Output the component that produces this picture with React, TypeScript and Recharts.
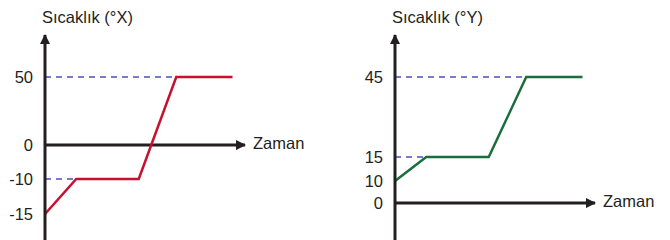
import React from "react";
import { LineChart, Line, XAxis, YAxis, ReferenceLine } from "recharts";

// time (schematic units)
const times = [0, 1, 3, 4.2, 6];
const tempX = [-15, -10, -10, 50, 50];
const tempY = [10, 15, 15, 45, 45];
const ticksX = [-15, -10, 0, 50];
const ticksY = [0, 10, 15, 45];

// the y axes are drawn out of scale, so each tick gets its own spot
// [value, share of axis height from the bottom]
const knotsX: [number, number][] = [
  [-15, 0.127],
  [-10, 0.298],
  [0, 0.463],
  [50, 0.795],
];
const knotsY: [number, number][] = [
  [0, 0.18],
  [10, 0.288],
  [15, 0.405],
  [45, 0.795],
];

const TEXT = "#231f20";
const AXIS = "#231f20";
const DASH = "#4f4fb4";
const FONT = "'Liberation Sans', Arial, sans-serif";
const PLOT_H = 205;

function pieceScale(knots: [number, number][]) {
  let dom: any[] = [0, 1];
  let rng: number[] = [0, 1];
  const frac = (v: number) => {
    let i = 0;
    while (i < knots.length - 2 && v > knots[i + 1][0]) i++;
    const [v0, f0] = knots[i];
    const [v1, f1] = knots[i + 1];
    return f0 + ((v - v0) / (v1 - v0)) * (f1 - f0);
  };
  const s: any = (v: number) => rng[0] + (rng[1] - rng[0]) * frac(Number(v));
  s.domain = (d?: any[]) => {
    if (d === undefined) return dom;
    dom = d;
    return s;
  };
  s.range = (r?: number[]) => {
    if (r === undefined) return rng;
    rng = r;
    return s;
  };
  s.copy = () => pieceScale(knots).domain(dom).range(rng);
  s.ticks = () => knots.map((k) => k[0]);
  return s;
}

function TempChart({
  values,
  ticks,
  knots,
  domain,
  color,
  title,
  id,
  left,
}: {
  values: number[];
  ticks: number[];
  knots: [number, number][];
  domain: [number, number];
  color: string;
  title: string;
  id: string;
  left: number;
}) {
  const data = times.map((t, i) => ({ t, v: values[i] }));
  const top = values[3];
  const low = values[1];
  const zero = knots.find((k) => k[0] === 0)![1];
  return (
    <div style={{ position: "absolute", left, top: 0, width: 335, height: 240 }}>
      <div
        style={{
          position: "absolute",
          left: 42,
          top: 8,
          fontFamily: FONT,
          fontSize: 16.5,
          color: TEXT,
          whiteSpace: "nowrap",
        }}
      >
        {title}
      </div>
      <div
        style={{
          position: "absolute",
          left: 253,
          top: 240 - zero * PLOT_H - 11,
          fontFamily: FONT,
          fontSize: 16.5,
          color: TEXT,
        }}
      >
        Zaman
      </div>
      <LineChart
        width={335}
        height={240}
        data={data}
        margin={{ top: 35, right: 90, bottom: 0, left: 0 }}
        style={{ position: "absolute", left: 0, top: 0 }}
      >
        <defs>
          <marker
            id={id + "-up"}
            viewBox="0 0 10 10"
            refX={9}
            refY={5}
            markerWidth={13}
            markerHeight={10}
            markerUnits="userSpaceOnUse"
            orient="auto-start-reverse"
          >
            <path d="M0,0 L10,5 L0,10 z" fill={AXIS} />
          </marker>
          <marker
            id={id + "-right"}
            viewBox="0 0 10 10"
            refX={9}
            refY={5}
            markerWidth={13}
            markerHeight={10}
            markerUnits="userSpaceOnUse"
            orient="auto"
          >
            <path d="M0,0 L10,5 L0,10 z" fill={AXIS} />
          </marker>
        </defs>
        <XAxis dataKey="t" type="number" domain={[0, 6.4]} hide />
        <YAxis
          type="number"
          width={45}
          domain={domain}
          allowDataOverflow
          scale={pieceScale(knots)}
          ticks={ticks}
          interval={0}
          tickLine={false}
          tickMargin={6}
          axisLine={{ stroke: AXIS, strokeWidth: 3, markerStart: `url(#${id}-up)` }}
          tick={{ fill: TEXT, fontSize: 16.5, fontFamily: FONT }}
        />
        <ReferenceLine
          segment={[
            { x: 0, y: top },
            { x: times[3], y: top },
          ]}
          stroke={DASH}
          strokeWidth={1.5}
          strokeDasharray="6 5"
        />
        <ReferenceLine
          segment={[
            { x: 0, y: low },
            { x: times[1], y: low },
          ]}
          stroke={DASH}
          strokeWidth={1.5}
          strokeDasharray="6 5"
        />
        <ReferenceLine
          y={0}
          stroke={AXIS}
          strokeWidth={3}
          markerEnd={`url(#${id}-right)`}
        />
        <Line
          dataKey="v"
          type="linear"
          stroke={color}
          strokeWidth={2.5}
          dot={false}
          isAnimationActive={false}
        />
      </LineChart>
    </div>
  );
}

export default function App() {
  return (
    <div
      style={{
        position: "absolute",
        left: 0,
        top: 0,
        width: 670,
        height: 240,
        background: "#fff",
      }}
    >
      <TempChart
        values={tempX}
        ticks={ticksX}
        knots={knotsX}
        domain={[-19, 80]}
        color="#c8102e"
        title="Sıcaklık (°X)"
        id="cx"
        left={0}
      />
      <TempChart
        values={tempY}
        ticks={ticksY}
        knots={knotsY}
        domain={[-8, 76]}
        color="#1a6e3c"
        title="Sıcaklık (°Y)"
        id="cy"
        left={350}
      />
    </div>
  );
}
